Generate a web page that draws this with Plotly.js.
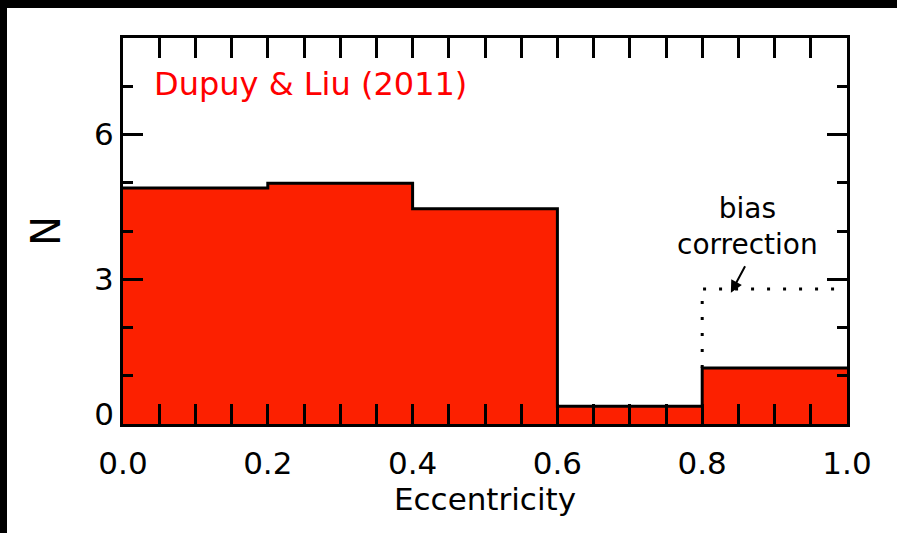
<!DOCTYPE html>
<html>
<head>
<meta charset="utf-8">
<script src="https://cdn.plot.ly/plotly-3.0.1.min.js"></script>
<style>
  html, body { margin: 0; padding: 0; background: #fff; }
  #frame { width: 890px; height: 525px; border-top: 8px solid #000; border-left: 7px solid #000; background: #fff; }
  #chart { width: 890px; height: 525px; }
</style>
</head>
<body>
<div id="frame"><div id="chart"></div></div>
<script>
// Histogram bins (eccentricity) and counts
const binLeft  = [0.0, 0.2, 0.4, 0.6, 0.8];
const binRight = [0.2, 0.4, 0.6, 0.8, 1.0];
const counts   = [4.89, 4.99, 4.46, 0.37, 1.16];
// Bias-corrected count for the last bin (dotted outline)
const biasBinLeft  = 0.8;
const biasBinRight = 1.0;
const biasCount    = 2.80;
// Tick labels
const xTickVals  = [0.0, 0.2, 0.4, 0.6, 0.8, 1.0];
const xTickText  = ['0.0', '0.2', '0.4', '0.6', '0.8', '1.0'];
const yTickVals  = [3, 6];
const yTickText  = ['3', '6'];
const yZeroVal   = [0];
const yZeroText  = ['0'];

const FONT = 'DejaVu Sans, Liberation Sans, Arial, sans-serif';
const RED_FILL = 'rgb(252,32,0)';

const centers = binLeft.map((l, i) => (l + binRight[i]) / 2);
const widths  = binLeft.map((l, i) => binRight[i] - l);

// step outline: edges + counts (last value repeated)
const stepX = binLeft.concat([binRight[binRight.length - 1]]);
const stepY = counts.concat([counts[counts.length - 1]]);

const traces = [
  {
    type: 'bar', x: centers, y: counts, width: widths,
    marker: { color: RED_FILL, line: { width: 0 } },
    hoverinfo: 'x+y', showlegend: false
  },
  {
    type: 'scatter', mode: 'lines', x: stepX, y: stepY,
    line: { shape: 'hv', color: '#000', width: 3 },
    showlegend: false, hoverinfo: 'skip'
  },
  {
    type: 'scatter', mode: 'lines',
    x: [biasBinLeft, biasBinLeft, biasBinRight],
    y: [counts[counts.length - 1], biasCount, biasCount],
    line: { color: '#000', width: 3, dash: '3px,13px' },
    showlegend: false, hoverinfo: 'skip'
  },
  {
    type: 'scatter', mode: 'markers', x: [0.5], y: [0], yaxis: 'y2',
    marker: { opacity: 0 }, showlegend: false, hoverinfo: 'skip'
  }
];

const layout = {
  width: 890, height: 525,
  margin: { l: 116, r: 50, t: 30, b: 109 },
  paper_bgcolor: '#fff', plot_bgcolor: '#fff',
  font: { family: FONT, color: '#000' },
  bargap: 0,
  showlegend: false,
  xaxis: {
    range: [0, 1], showgrid: false, zeroline: false,
    showline: true, linecolor: '#000', linewidth: 3, mirror: 'allticks',
    ticks: 'inside', ticklen: 20, tickwidth: 3, tickcolor: '#000',
    tickmode: 'array', tickvals: xTickVals, ticktext: xTickText,
    tickfont: { size: 31, family: FONT, color: '#000' },
    ticklabelstandoff: 10,
    minor: { dtick: 0.05, ticks: 'inside', ticklen: 10, tickwidth: 3, tickcolor: '#000', showgrid: false },
    title: { text: 'Eccentricity', font: { size: 31, family: FONT, color: '#000' }, standoff: 1 }
  },
  yaxis: {
    range: [0, 8], showgrid: false, zeroline: false,
    showline: true, linecolor: '#000', linewidth: 3, mirror: 'allticks',
    ticks: 'inside', ticklen: 20, tickwidth: 3, tickcolor: '#000',
    tickmode: 'array', tickvals: yTickVals, ticktext: yTickText,
    tickfont: { size: 31, family: FONT, color: '#000' },
    ticklabelstandoff: 0,
    minor: { dtick: 1, ticks: 'inside', ticklen: 10, tickwidth: 3, tickcolor: '#000', showgrid: false },
    title: { text: 'N', font: { size: 40, family: FONT, color: '#000' }, standoff: 22 }
  },
  yaxis2: {
    overlaying: 'y', side: 'left', range: [0, 8],
    showgrid: false, zeroline: false, showline: false, ticks: '',
    tickmode: 'array', tickvals: yZeroVal, ticktext: yZeroText,
    tickfont: { size: 31, family: FONT, color: '#000' },
    ticklabelstandoff: 8, ticklabelshift: -10
  },
  annotations: [
    {
      xref: 'x', yref: 'y', x: 0.04, y: 7.05, xanchor: 'left', yanchor: 'middle',
      text: 'Dupuy &amp; Liu (2011)', showarrow: false,
      font: { size: 32, family: FONT, color: '#ff0000' }
    },
    {
      xref: 'x', yref: 'y', x: 0.862, y: 4.1, xanchor: 'center', yanchor: 'middle',
      text: 'bias<br>correction', showarrow: false,
      font: { size: 28, family: FONT, color: '#000' }
    },
    {
      xref: 'x', yref: 'y', x: 0.8396, y: 2.72, text: '',
      showarrow: true, axref: 'pixel', ayref: 'pixel', ax: 15, ay: -28,
      arrowhead: 2, arrowsize: 1.2, arrowwidth: 2, arrowcolor: '#000'
    }
  ]
};

Plotly.newPlot('chart', traces, layout, { staticPlot: true, displayModeBar: false });
</script>
</body>
</html>
